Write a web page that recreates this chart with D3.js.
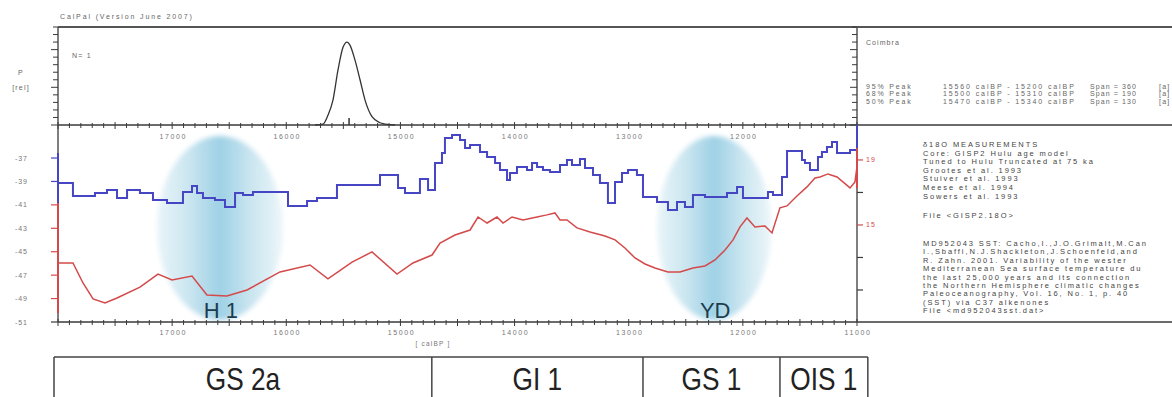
<!DOCTYPE html>
<html><head><meta charset="utf-8">
<script src="https://cdn.jsdelivr.net/npm/d3@7"></script>
<style>
body{margin:0;background:#fff}
svg{display:block;font-family:"Liberation Sans",Arial,sans-serif}
</style>
</head><body>
<svg id="c" width="1172" height="397"></svg>
<script>
// ---------------- data ----------------
const blueYears = [18000,17869,17676,17571,17483,17395,17282,17168,17045,16905,16826,16782,16730,16625,16537,16449,16379,16292,15985,15818,15731,15556,15179,15021,14960,14829,14758,14697,14636,14610,14548,14478,14434,14390,14303,14241,14171,14128,14066,14040,13979,13891,13847,13803,13751,13690,13602,13541,13497,13427,13383,13313,13252,13182,13120,13059,13006,12928,12875,12752,12656,12577,12507,12437,12332,12139,12051,11999,11780,11736,11657,11613,11482,11456,11412,11342,11307,11263,11219,11175,11061,11000];
const blueValues = [-39.14,-40.25,-39.99,-39.73,-40.42,-39.73,-39.99,-40.59,-40.84,-39.90,-39.39,-39.99,-40.42,-40.59,-41.18,-39.99,-40.16,-39.90,-41.10,-40.67,-40.42,-39.31,-38.45,-39.56,-39.99,-38.79,-39.73,-37.43,-36.57,-35.29,-35.04,-35.46,-36.15,-35.89,-36.49,-36.91,-37.43,-38.02,-38.88,-38.28,-37.77,-38.02,-37.43,-37.77,-38.02,-38.20,-37.60,-37.17,-37.60,-37.09,-37.85,-38.45,-39.14,-40.84,-39.05,-38.28,-38.02,-38.45,-40.33,-40.76,-41.44,-40.76,-41.18,-40.16,-40.33,-39.99,-39.48,-40.42,-39.90,-40.16,-38.62,-36.40,-37.17,-37.43,-38.02,-36.91,-36.49,-36.06,-35.63,-36.57,-36.32,-36.32];

const sstYears = [18000,17869,17781,17693,17588,17483,17282,17124,17001,16826,16695,16520,16344,16055,15792,15635,15424,15249,15030,14890,14723,14653,14522,14390,14320,14241,14154,14101,14022,13926,13803,13716,13646,13602,13541,13453,13339,13208,13120,13033,12945,12857,12770,12656,12551,12437,12332,12244,12156,12086,12025,11964,11894,11806,11745,11675,11613,11526,11438,11368,11324,11254,11175,11061,11018,11000];
const sstValues = [12.66,12.66,11.43,10.45,10.20,10.51,11.18,11.98,11.62,11.86,10.69,10.63,11.00,12.11,12.54,11.68,12.72,13.34,11.98,12.66,13.15,13.89,14.38,14.69,15.49,15.12,15.49,15.12,15.49,15.31,15.49,15.62,15.74,15.31,15.31,14.82,14.57,14.32,14.08,13.58,12.97,12.60,12.35,12.11,12.11,12.35,12.48,12.85,13.46,14.08,14.88,15.43,14.88,14.94,14.51,16.05,16.17,16.78,17.34,17.89,17.95,18.14,17.95,17.28,17.65,18.57];

const probYears  = [15748,15678,15635,15591,15547,15503,15468,15442,15398,15354,15310,15249,15179,15135,15048];
const probValues = [0,0.013,0.13,0.33,0.73,1.03,1.10,1.06,0.86,0.60,0.33,0.11,0.03,0.013,0];
const probMarkerYear = 15450;

const xTopLabels = [17000,16000,15000,14000,13000,12000];
const xBottomLabels = [17000,16000,15000,14000,13000,12000,11000];
const leftTicks = [-37,-39,-41,-43,-45,-47,-49,-51];
const rightTicks = [11,13,15,17,19];
const rightLabels = [15,19];
const probTicks = d3.range(0,1.31,0.1);

const leftBlueRange = [-36.57,-40.84];
const leftRedRange  = [16.35,9.58];
const rightBlueRange = [-34.18,-36.15];
const rightRedRange  = [19.74,17.28];

const events = [{name:"H 1",start:17133,end:16029},{name:"YD",start:12752,end:11750}];

const stageBounds = [18035,14725,12875,11675,10905];
const stageNames = ["GS 2a","GI 1","GS 1","OIS 1"];

const peakRows = [
  ["95% Peak","15560 calBP - 15200 calBP","Span = 360","[a]"],
  ["68% Peak","15500 calBP - 15310 calBP","Span = 190","[a]"],
  ["50% Peak","15470 calBP - 15340 calBP","Span = 130","[a]"]
];
const block1 = ["δ18O MEASUREMENTS","Core: GISP2 Hulu age model","Tuned to Hulu Truncated at 75 ka","Grootes et al. 1993","Stuiver et al. 1993","Meese et al. 1994","Sowers et al. 1993"];
const block1File = "File <GISP2.18O>";
const block2 = ["MD952043 SST: Cacho,I.,J.O.Grimalt,M.Can","I.,Sbaffi,N.J.Shackleton,J.Schoenfeld,and","R. Zahn. 2001. Variability of the wester","Mediterranean Sea surface temperature du","the last 25,000 years and its connection","the Northern Hemisphere climatic changes","Paleoceanography, Vol. 16, No. 1, p. 40","(SST) via C37 alkenones","File <md952043sst.dat>"];

// ---------------- layout ----------------
const L=58, R=857, T=27, TB=125, B=322, W=1172;
const svg = d3.select("#c");
const x = d3.scaleLinear().domain([18000,11000]).range([L,R]);
const yB = d3.scaleLinear().domain([-51,-34.18]).range([B,TB]);
const yS = d3.scaleLinear().domain([9.03,21.15]).range([B,TB]);
const yP = d3.scaleLinear().domain([0,1.3]).range([TB,T]);

const BLUE="#4646c4", RED="#d44a4a", FR="#3a3a3a";

// defs
const defs = svg.append("defs");
const g = defs.append("linearGradient").attr("id","eg").attr("x1","0").attr("x2","1").attr("y1","0").attr("y2","0");
[[0,"#eaf5f9"],[0.25,"#cbe6f0"],[0.5,"#9ed1e5"],[0.75,"#cbe6f0"],[1,"#edf6fa"]].forEach(s=>g.append("stop").attr("offset",s[0]).attr("stop-color",s[1]));
defs.append("filter").attr("id","bl").attr("x","-20%").attr("y","-20%").attr("width","140%").attr("height","140%")
  .append("feGaussianBlur").attr("stdDeviation",2.5);
defs.append("clipPath").attr("id","mc").append("rect").attr("x",L).attr("y",TB).attr("width",R-L).attr("height",B-TB);

// ellipses
events.forEach(e=>{
  const x0=x(e.start), x1=x(e.end);
  svg.append("ellipse").attr("cx",(x0+x1)/2).attr("cy",228).attr("rx",(x1-x0)/2).attr("ry",92)
    .attr("fill","url(#eg)").attr("filter","url(#bl)");
});

// series
const mc = svg.append("g").attr("clip-path","url(#mc)");
mc.append("path").datum(sstYears.map((d,i)=>[d,sstValues[i]]))
  .attr("d",d3.line().x(d=>x(d[0])).y(d=>yS(d[1])))
  .attr("fill","none").attr("stroke",RED).attr("stroke-width",1.5);
mc.append("path").datum(blueYears.map((d,i)=>[d,blueValues[i]]))
  .attr("d",d3.line().x(d=>x(d[0])).y(d=>yB(d[1])).curve(d3.curveStepAfter))
  .attr("fill","none").attr("stroke",BLUE).attr("stroke-width",2);

// probability curve
svg.append("path").datum(probYears.map((d,i)=>[d,probValues[i]]))
  .attr("d",d3.line().x(d=>x(d[0])).y(d=>yP(d[1])).curve(d3.curveMonotoneX))
  .attr("fill","none").attr("stroke","#333").attr("stroke-width",1.3);
svg.append("line").attr("x1",x(probMarkerYear)).attr("x2",x(probMarkerYear)).attr("y1",TB-7).attr("y2",TB).attr("stroke","#333").attr("stroke-width",1.5);

// frame lines
const ln=(x1,y1,x2,y2,c,w)=>svg.append("line").attr("x1",x1).attr("y1",y1).attr("x2",x2).attr("y2",y2).attr("stroke",c||FR).attr("stroke-width",w||1.5);
ln(L,T,W,T,"#555",2);
ln(L,TB,W,TB,FR,1.6);
ln(L,B,W,B,FR,1.6);
ln(L,T,L,B,"#555",1.5);
ln(R,T,R,B,"#555",1.5);

// x ticks on both axes
const minor = d3.range(11000,18001,100);
[TB,B].forEach(yy=>{
  minor.forEach(v=>{
    const big = v%500===0;
    ln(x(v),yy-(big?3:2),x(v),yy+(big?4:3),FR,1);
  });
});
const tickTxt = (xx,yy,t,anchor,col)=>svg.append("text").attr("x",xx).attr("y",yy).attr("text-anchor",anchor||"middle")
  .attr("font-size",7).attr("letter-spacing",1.6).attr("fill",col||"#777").text(t);
xTopLabels.forEach(v=>tickTxt(x(v)+1,139,v));
xBottomLabels.forEach(v=>tickTxt(x(v)+1,335,v));
tickTxt(433,346,"[ calBP ]","middle","#777").attr("font-size",6.5).attr("letter-spacing",1.2);

// top panel y ticks
probTicks.forEach(v=>{
  const yy=yP(v); const big=Math.round(v*10)%5===0;
  ln(L-(big?7:5),yy,L,yy,FR,1);
  ln(R-(big?7:5),yy,R,yy,FR,1);
});

// left axis
svg.append("line").attr("x1",L).attr("x2",L).attr("y1",yB(leftBlueRange[0])).attr("y2",yB(leftBlueRange[1])).attr("stroke",BLUE).attr("stroke-width",2);
svg.append("line").attr("x1",L).attr("x2",L).attr("y1",yS(leftRedRange[0])).attr("y2",yS(leftRedRange[1])).attr("stroke",RED).attr("stroke-width",2);
leftTicks.forEach(v=>{
  const yy=yB(v);
  const col = (v<=-37 && v>=-39)?BLUE:((v<=-41&&v>=-49)?RED:FR);
  ln(L-7,yy,L,yy,col,1.2);
  tickTxt(28,yy+2.5,v,"end","#777").attr("letter-spacing",1);
});
// right axis
svg.append("line").attr("x1",R).attr("x2",R).attr("y1",yB(rightBlueRange[0])).attr("y2",yB(rightBlueRange[1])).attr("stroke",BLUE).attr("stroke-width",2);
svg.append("line").attr("x1",R).attr("x2",R).attr("y1",yS(rightRedRange[0])).attr("y2",yS(rightRedRange[1])).attr("stroke",RED).attr("stroke-width",2);
rightTicks.forEach(v=>{
  const yy=yS(v); const lab=rightLabels.includes(v);
  ln(R,yy,R+6,yy,lab?RED:FR,1.2);
  if(lab) tickTxt(R+9,yy+2.5,v,"start",RED).attr("letter-spacing",1);
});

// small texts
const small=(xx,yy,t,anchor,len)=>{
  const s=svg.append("text").attr("x",xx).attr("y",yy).attr("text-anchor",anchor||"start")
    .attr("font-size",7).attr("letter-spacing",1.2).attr("fill","#666").text(t);
  if(len) s.attr("textLength",len).attr("lengthAdjust","spacing");
  return s;
};
small(60,19,"CalPal (Version June 2007)","start",133);
small(72,58,"N= 1");
small(21,75,"P","middle");
small(21,90,"[rel]","middle");
small(866,45,"Coimbra","start",34);
const pcols=[866,943,1090,1159];
const plens=[46,132,47,null];
peakRows.forEach((r,i)=>r.forEach((t,j)=>small(pcols[j],88.5+i*7.5,t,"start",plens[j])));

const blk=(xx,yy,t)=>svg.append("text").attr("x",xx).attr("y",yy).attr("font-size",7.5).attr("letter-spacing",1.9).attr("fill","#444").text(t);
block1.forEach((t,i)=>blk(923,147+i*8.6,t));
blk(923,218,block1File);
block2.forEach((t,i)=>blk(923,246+i*8.4,t));

// event labels
events.forEach(e=>{
  const cx=(x(e.start)+x(e.end))/2;
  svg.append("text").attr("x",cx+1).attr("y",318).attr("text-anchor","middle").attr("font-size",22)
    .attr("fill","#203c4c").text(e.name);
});

// stage boxes
const sx = stageBounds.map(v=>x(v));
ln(sx[0],357,sx[sx.length-1],357,"#444",1.5);
sx.forEach(v=>ln(v,357,v,397,"#444",1.5));
stageNames.forEach((n,i)=>{
  const cx=(sx[i]+sx[i+1])/2;
  svg.append("text").attr("transform",`translate(${cx},390) scale(0.82,1)`).attr("text-anchor","middle")
    .attr("font-size",32).attr("fill","#222").text(n);
});
</script>
</body></html>
